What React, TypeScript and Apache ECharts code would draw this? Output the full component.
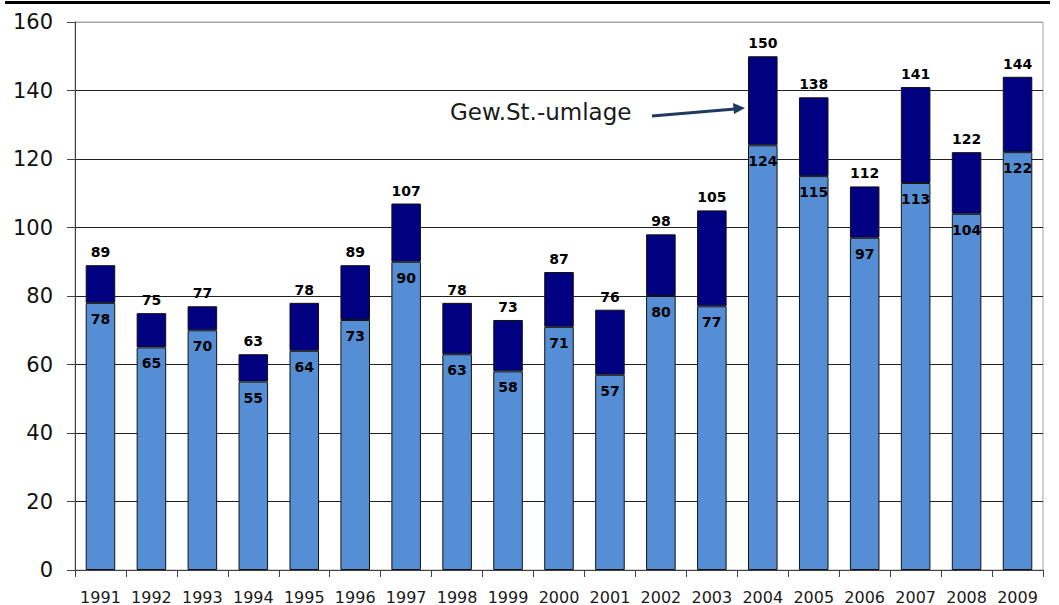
import React, { useEffect, useRef } from "react";
import * as echarts from "echarts";

const years = ["1991","1992","1993","1994","1995","1996","1997","1998","1999","2000","2001","2002","2003","2004","2005","2006","2007","2008","2009"];
const baseValues = [78,65,70,55,64,73,90,63,58,71,57,80,77,124,115,97,113,104,122];
const totalValues = [89,75,77,63,78,89,107,78,73,87,76,98,105,150,138,112,141,122,144];
const yTicks = { min: 0, max: 160, interval: 20 };
const annotationText = "Gew.St.-umlage";

export default function App() {
  const ref = useRef<HTMLDivElement>(null);
  useEffect(() => {
    if (!ref.current) return;
    const chart = echarts.init(ref.current, null, { renderer: "svg" });
    const upper = totalValues.map((t, i) => t - baseValues[i]);
    const font = "DejaVu Sans, Verdana, sans-serif";
    chart.setOption({
      animation: false,
      backgroundColor: "#fff",
      grid: { left: 75, right: 16, top: 22, bottom: 35, show: true, borderColor: "#a6a6a6", borderWidth: 1 },
      xAxis: {
        type: "category",
        data: years,
        axisLine: { lineStyle: { color: "#404040", width: 1 } },
        axisTick: { show: true, length: 7, interval: 0, lineStyle: { color: "#404040" } },
        axisLabel: { color: "#1a1a1a", fontSize: 16, fontFamily: font, margin: 19, interval: 0, hideOverlap: false },
      },
      yAxis: {
        type: "value",
        min: yTicks.min,
        max: yTicks.max,
        interval: yTicks.interval,
        axisLine: { show: true, lineStyle: { color: "#404040", width: 1 } },
        axisTick: { show: true, length: 8, lineStyle: { color: "#404040" } },
        axisLabel: { color: "#111", fontSize: 21, fontFamily: font, margin: 22 },
        splitLine: { show: true, lineStyle: { color: ["#222","#222","#222","#222","#222","#222","#222","#222","#a6a6a6"], width: 1 } },
      },
      series: [
        {
          type: "bar",
          stack: "s",
          data: baseValues,
          barWidth: "58%",
          itemStyle: { color: "#558ED5", borderColor: "#111", borderWidth: 1 },
          label: { show: true, position: "insideTop", distance: 9, color: "#000", fontWeight: "bold", fontSize: 14, fontFamily: font },
        },
        {
          type: "bar",
          stack: "s",
          data: upper,
          barWidth: "58%",
          itemStyle: { color: "#000080", borderColor: "#111", borderWidth: 1 },
          label: {
            show: true, position: "top", distance: 6, color: "#000", fontWeight: "bold", fontSize: 14, fontFamily: font,
            formatter: (p: any) => String(totalValues[p.dataIndex]),
          },
        },
      ],
      graphic: [
        { type: "rect", shape: { x: 5, y: 1, width: 1045, height: 3 }, style: { fill: "#000" } },
        { type: "text", x: 450, y: 112, style: { text: annotationText, fontSize: 23, fontFamily: font, fill: "#1a1a1a", textVerticalAlign: "middle" } },
        { type: "line", shape: { x1: 652, y1: 116, x2: 735, y2: 109 }, style: { stroke: "#1F3A60", lineWidth: 3 } },
        { type: "polygon", shape: { points: [[745, 108], [733, 103], [734, 114]] }, style: { fill: "#1F3A60" } },
      ],
    });
    return () => chart.dispose();
  }, []);
  return <div ref={ref} style={{ position: "fixed", left: 0, top: 0, width: 1059, height: 605 }} />;
}
